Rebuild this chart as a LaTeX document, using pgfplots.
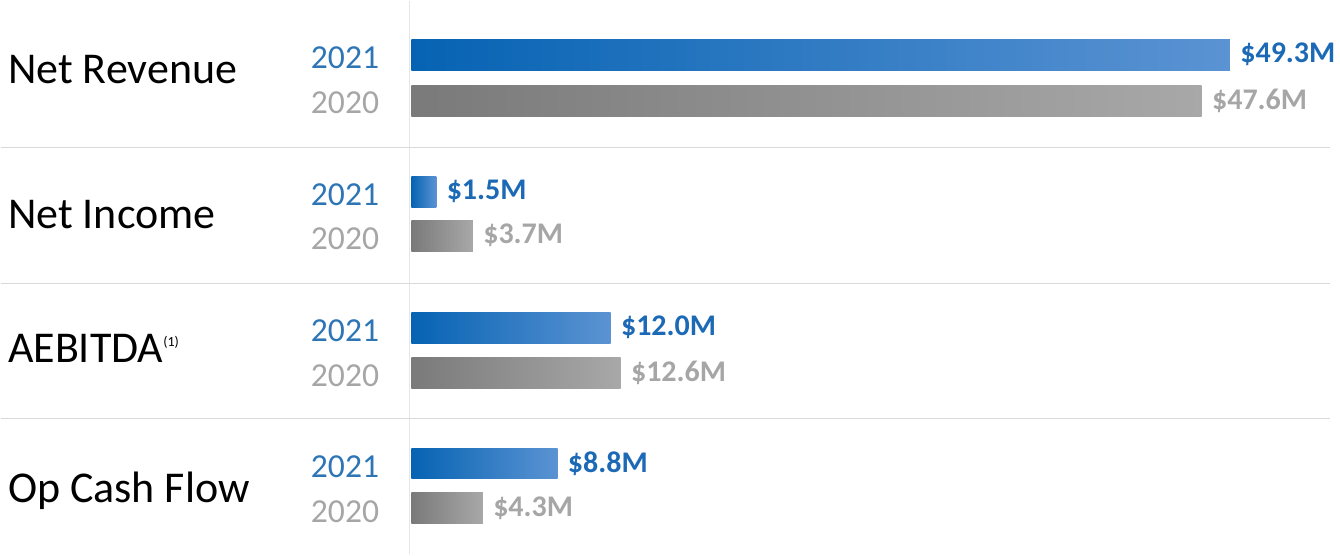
\documentclass[border=0pt]{standalone}
\usepackage{fontspec}
\setmainfont{Carlito}
\usepackage{pgfplots}
\pgfplotsset{compat=1.18}

\definecolor{blueA}{HTML}{0663B3}
\definecolor{blueB}{HTML}{5B93D3}
\definecolor{grayA}{HTML}{7A7A7A}
\definecolor{grayB}{HTML}{A8A8A8}
\definecolor{bluetxt}{HTML}{2E75B6}
\definecolor{bluelbl}{HTML}{1C6AB6}
\definecolor{graytxt}{HTML}{A6A6A6}
\definecolor{sepline}{HTML}{D9D9D9}
\definecolor{vline}{HTML}{E6E6E6}

% one y unit = one pixel of the reference, measured from the top
\newcommand{\catfont}{\fontsize{22}{26}\selectfont}
\newcommand{\yearfont}{\fontsize{16.8}{20}\selectfont}
\newcommand{\valfont}{\fontsize{15}{18}\selectfont\bfseries}

\tikzset{
  year/.style={anchor=base east, inner sep=0pt, font=\yearfont},
  cat/.style={anchor=base west, inner sep=0pt, font=\catfont},
}
\pgfplotsset{
  b21/.style={draw=none, left color=blueA, right color=blueB,
    every node near coord/.append style={text=bluelbl}},
  b20/.style={draw=none, left color=grayA, right color=grayB,
    every node near coord/.append style={text=graytxt}},
}

\begin{document}
\begin{tikzpicture}
\begin{axis}[
  scale only axis, width=670pt, height=277pt,
  xmin=-24.74, xmax=55.93, ymin=0, ymax=554, y dir=reverse,
  hide axis, clip=false,
  xbar, bar width=31, bar shift=0pt,
  point meta=x,
  nodes near coords={\$\pgfmathprintnumber[fixed,fixed zerofill,precision=1,assume math mode=true]{\pgfplotspointmeta}M},
  every node near coord/.append style={anchor=west, inner sep=0pt, xshift=5pt, font=\valfont},
]
\path (rel axis cs:0,0) rectangle (rel axis cs:1,1);

% guide lines
\draw[vline, line width=0.75pt] (axis cs:-0.12,0) -- (axis cs:-0.12,554);
\draw[sepline, line width=0.75pt] (axis cs:-24.74,147) -- (axis cs:55.3,147);
\draw[sepline, line width=0.75pt] (axis cs:-24.74,283) -- (axis cs:55.3,283);
\draw[sepline, line width=0.75pt] (axis cs:-24.74,418) -- (axis cs:55.3,418);

% one plot per bar so each bar gets its own gradient
% 2021
\addplot[b21] coordinates {(49.3,54)};
\addplot[b21] coordinates {(1.5,191)};
\addplot[b21] coordinates {(12.0,327)};
\addplot[b21] coordinates {(8.8,463)};
% 2020
\addplot[b20] coordinates {(47.6,100)};
\addplot[b20] coordinates {(3.7,235)};
\addplot[b20] coordinates {(12.6,372)};
\addplot[b20] coordinates {(4.3,508)};

% category names
\node[cat] at (axis cs:-24.32,83) {Net Revenue};
\node[cat] at (axis cs:-24.32,228) {Net Income};
\node[cat] at (axis cs:-24.32,362)
  {AEBITDA\raisebox{8pt}{\fontsize{7}{8}\selectfont(1)}};
\node[cat] at (axis cs:-24.32,502) {Op Cash Flow};

% years
\node[year, text=bluetxt] at (axis cs:-1.93,68) {2021};
\node[year, text=bluetxt] at (axis cs:-1.93,205) {2021};
\node[year, text=bluetxt] at (axis cs:-1.93,341) {2021};
\node[year, text=bluetxt] at (axis cs:-1.93,477) {2021};
\node[year, text=graytxt] at (axis cs:-1.93,113) {2020};
\node[year, text=graytxt] at (axis cs:-1.93,249) {2020};
\node[year, text=graytxt] at (axis cs:-1.93,386) {2020};
\node[year, text=graytxt] at (axis cs:-1.93,522) {2020};
\end{axis}
\end{tikzpicture}
\end{document}
